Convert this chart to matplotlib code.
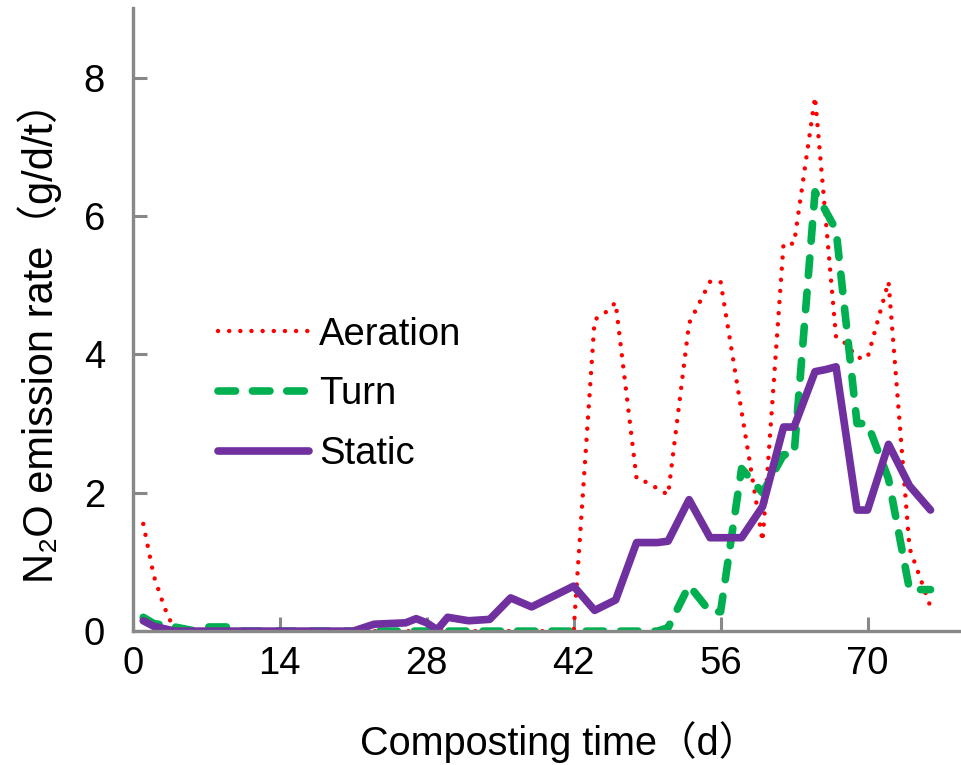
import matplotlib.pyplot as plt

plt.rcParams['font.family'] = ['Liberation Sans', 'Noto Sans CJK SC', 'DejaVu Sans']

# Aeration (red dotted)
aer_day = [1, 2, 3, 4, 42, 44, 45, 46, 48, 49, 51, 53, 54, 55, 56, 60, 62, 63,
           65, 67, 68, 69, 70, 72, 74, 76]
aer_rate = [1.55, 0.8, 0.35, 0.0, 0.0, 4.5, 4.6, 4.75, 2.2, 2.15, 1.97, 4.45, 4.75,
            5.05, 5.05, 1.3, 5.6, 5.6, 7.72, 4.25, 4.15, 3.95, 3.95, 5.05, 1.2, 0.35]

# Turn (green dashed)
turn_day = [1, 2, 4, 6, 7, 9, 10, 50, 51, 53, 55, 56, 58, 60, 62, 63, 65, 67, 69,
            70, 72, 74, 76]
turn_rate = [0.2, 0.11, 0.06, 0.0, 0.06, 0.06, 0.0, 0.0, 0.05, 0.66, 0.28, 0.28,
             2.35, 2.0, 2.55, 2.55, 6.35, 5.8, 3.0, 3.0, 2.2, 0.6, 0.6]

# Static (purple solid)
static_day = [1, 2, 4, 21, 23, 26, 27, 28, 29, 30, 32, 34, 36, 38, 42, 44, 46, 48,
              50, 51, 53, 55, 58, 60, 62, 63, 65, 66, 67, 69, 70, 72, 74, 76]
static_rate = [0.15, 0.07, 0.0, 0.0, 0.1, 0.12, 0.18, 0.12, 0.02, 0.2, 0.15, 0.17,
               0.48, 0.35, 0.65, 0.3, 0.45, 1.28, 1.28, 1.3, 1.9, 1.35, 1.35, 1.8,
               2.95, 2.95, 3.75, 3.78, 3.82, 1.75, 1.75, 2.7, 2.1, 1.75]

xticks = [0, 14, 28, 42, 56, 70]
yticks = [0, 2, 4, 6, 8]

fig = plt.figure(figsize=(9.62, 7.65), dpi=100)
ax = fig.add_axes([0.138, 0.175, 0.862, 0.814])

ax.plot(aer_day, aer_rate, color='#FF0000', lw=3.2, linestyle=(0, (0.01, 2.5)),
        dash_capstyle='round', label='Aeration')
ax.plot(turn_day, turn_rate, color='#00B050', lw=5.5, linestyle=(0, (2.3, 2.2)),
        dash_capstyle='round', dash_joinstyle='round', label='Turn')
ax.plot(static_day, static_rate, color='#7030A0', lw=5.5, solid_capstyle='round',
        solid_joinstyle='round', label='Static')

ax.set_xlim(0, 79)
ax.set_ylim(0, 9)
ax.set_xticks(xticks)
ax.set_yticks(yticks)

for s in ['top', 'right']:
    ax.spines[s].set_visible(False)
for s in ['left', 'bottom']:
    ax.spines[s].set_color('#888888')
    ax.spines[s].set_linewidth(2.4)
ax.tick_params(axis='both', direction='in', length=10, width=2.2, color='#888888',
               labelsize=27.5)
ax.tick_params(axis='x', pad=11)
ax.tick_params(axis='y', pad=20)

ax.set_xlabel('Composting time（d）', fontsize=28.5)
ax.set_ylabel('N₂O emission rate（g/d/t）', fontsize=30)
ax.xaxis.set_label_coords(0.5145, -0.178)
ax.yaxis.set_label_coords(-0.112, 0.48)
ax.xaxis.label.set_va('center')
ax.yaxis.label.set_va('center')

ax.legend(loc='upper left', bbox_to_anchor=(0.1025, 0.505), frameon=False, fontsize=27.5,
          handlelength=2.4, handletextpad=0.25, labelspacing=0.62, borderpad=0,
          borderaxespad=0)

fig.savefig('out.png', dpi=100)
